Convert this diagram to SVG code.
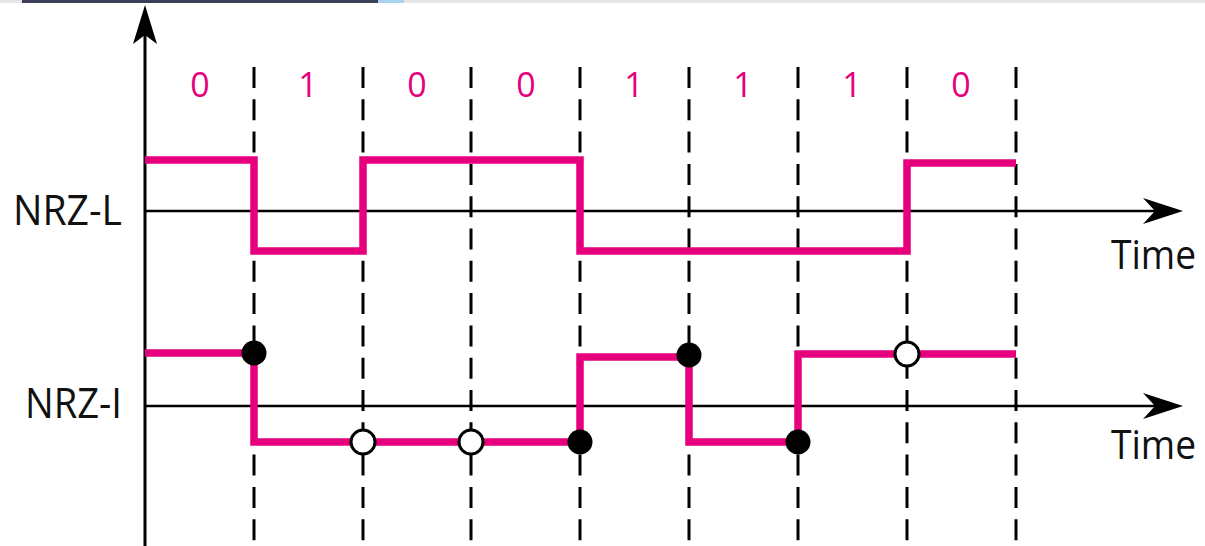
<svg xmlns="http://www.w3.org/2000/svg" width="1205" height="546" viewBox="0 0 1205 546">
<style>
.axis{stroke:#000;stroke-width:2.5;fill:none}
.grid{stroke:#000;stroke-width:3;stroke-dasharray:21 11.3;fill:none}
.wave{stroke:#e6007e;stroke-width:7.5;fill:none;stroke-linejoin:miter;stroke-linecap:butt}
.bit{font-family:"Open Sans","Liberation Sans",sans-serif;font-size:34px;fill:#e6007e;text-anchor:middle}
.lbl{font-family:"Open Sans","Liberation Sans",sans-serif;font-size:42px;fill:#111}
.tm{font-family:"Open Sans","Liberation Sans",sans-serif;font-size:40px;fill:#111}
.fill{fill:#000}
.open{fill:#fff;stroke:#000;stroke-width:3}
.head{fill:#000}
</style>
<rect x="0" y="0" width="1205" height="546" fill="#fff"/>
<g id="topbar">
<rect x="0" y="0" width="22" height="3" fill="#e6e6e8"/>
<rect x="22" y="0" width="356" height="3" fill="#3b3f57"/>
<rect x="378" y="0" width="26" height="3" fill="#a8d4ef"/>
<rect x="404" y="0" width="801" height="3" fill="#e6e6e8"/>
</g>
<g id="grid">
<line class="grid" x1="254" y1="67" x2="254" y2="546"/>
<line class="grid" x1="363" y1="67" x2="363" y2="546"/>
<line class="grid" x1="471" y1="67" x2="471" y2="546"/>
<line class="grid" x1="580" y1="67" x2="580" y2="546"/>
<line class="grid" x1="689" y1="67" x2="689" y2="546"/>
<line class="grid" x1="798" y1="67" x2="798" y2="546"/>
<line class="grid" x1="907" y1="67" x2="907" y2="546"/>
<line class="grid" x1="1016" y1="67" x2="1016" y2="546"/>
</g>
<g id="bits">
<text class="bit" x="200" y="97">0</text>
<text class="bit" x="308" y="97">1</text>
<text class="bit" x="417" y="97">0</text>
<text class="bit" x="526" y="97">0</text>
<text class="bit" x="634" y="97">1</text>
<text class="bit" x="743" y="97">1</text>
<text class="bit" x="852" y="97">1</text>
<text class="bit" x="961" y="97">0</text>
</g>
<g id="axes">
<line class="axis" x1="145" y1="30" x2="145" y2="546" style="stroke-width:3"/>
<path class="head" d="M145,5 L157,44 L145,35 L133,44 Z"/>
<line class="axis" x1="145" y1="211" x2="1160" y2="211"/>
<path class="head" d="M1183,211 L1143,198 L1155,211 L1143,224 Z"/>
<line class="axis" x1="145" y1="406" x2="1160" y2="406"/>
<path class="head" d="M1183,406 L1143,393 L1155,406 L1143,419 Z"/>
</g>
<g id="labels">
<text class="lbl" x="13" y="225" textLength="109" lengthAdjust="spacingAndGlyphs">NRZ-L</text>
<text class="lbl" x="25" y="418" textLength="97" lengthAdjust="spacingAndGlyphs">NRZ-I</text>
<text class="tm" x="1111" y="269" textLength="85" lengthAdjust="spacingAndGlyphs">Time</text>
<text class="tm" x="1111" y="459" textLength="85" lengthAdjust="spacingAndGlyphs">Time</text>
</g>
<g id="nrz-l">
<polyline class="wave" points="145,160 254,160 254,251 363,251 363,160 580,160 580,251 907,251 907,163 1016,163"/>
</g>
<g id="nrz-i">
<polyline class="wave" points="145,353 254,353 254,442 580,442 580,357 689,357 689,442 798,442 798,354 1016,354"/>
<circle class="fill" cx="254" cy="353" r="12.5"/>
<circle class="open" cx="363" cy="442" r="12"/>
<circle class="open" cx="471" cy="442" r="12"/>
<circle class="fill" cx="580" cy="442" r="12.5"/>
<circle class="fill" cx="689" cy="355" r="12.5"/>
<circle class="fill" cx="798" cy="442" r="12.5"/>
<circle class="open" cx="907" cy="354" r="12"/>
</g>
</svg>
